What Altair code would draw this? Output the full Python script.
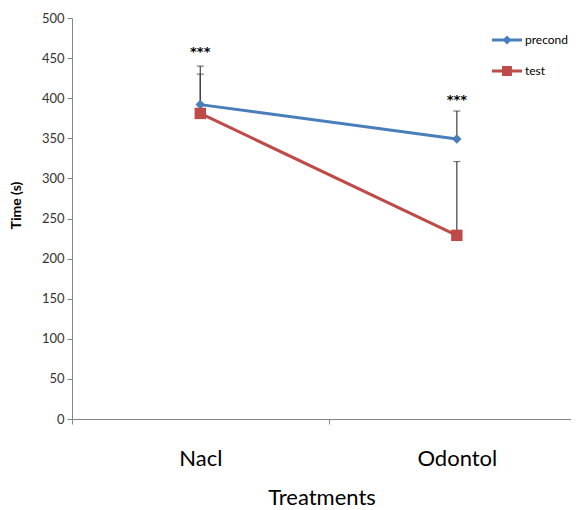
import altair as alt
import pandas as pd

categories = ["Nacl", "Odontol"]
series = ["precond", "test"]
precond = [392, 349]
test = [381, 229]
precond_upper = [440, 384]
test_upper = [430, 321]
star_level = [457, 398]
star_text = ["***", "***"]
colors = ["#4A7EBB", "#BE4B48"]
y_ticks = list(range(0, 501, 50))

rows = []
for s, vals, ups in [("precond", precond, precond_upper), ("test", test, test_upper)]:
    for i, c in enumerate(categories):
        rows.append({"cat": c, "pos": 2 * i + 1, "series": s, "value": vals[i], "upper": ups[i]})
df = pd.DataFrame(rows)
stars_df = pd.DataFrame({"cat": categories, "pos": [2 * i + 1 for i in range(len(categories))],
                         "star": star_level, "txt": star_text})

label_expr = " : ".join(
    [f"datum.value == {2*i+1} ? '{c}'" for i, c in enumerate(categories)]) + " : ''"

xenc = alt.X("pos:Q", scale=alt.Scale(domain=[0, 3.89], nice=False, zero=False),
             axis=alt.Axis(values=[0, 1, 2, 3], labelExpr=label_expr, title="Treatments",
                           grid=False, domainColor="#868686", tickColor="#868686",
                           tickOpacity={"expr": "datum.value % 2 == 1 ? 0 : 1"},
                           tickSize=5, labelPadding=24, labelFont="Lato", labelFontSize=22,
                           labelColor="black", titleFont="Lato", titleFontSize=22,
                           titleFontWeight="normal", titleColor="black", titlePadding=18))
yaxis = alt.Axis(values=y_ticks, grid=False, domainColor="#868686", tickColor="#868686",
                 tickSize=5, labelPadding=3, labelFont="Lato", labelFontSize=13,
                 labelColor="#333333", titleFont="Lato", titleFontSize=14,
                 titleFontWeight="bold", titleColor="black", titlePadding=18, titleY=187)
yscale = alt.Scale(domain=[0, 500], nice=False)


def Y(field):
    return alt.Y(f"{field}:Q", scale=yscale, axis=yaxis, title="Time (s)")


base = alt.Chart(df)

err = base.mark_rule(color="#404040", strokeWidth=1.2).encode(
    x=xenc, y=Y("value"), y2="upper:Q", detail="series:N")
caps = base.mark_tick(color="#404040", orient="horizontal", size=7, thickness=1.2).encode(
    x=xenc, y=Y("upper"), detail="series:N")

line_p = base.transform_filter(alt.datum.series == "precond").mark_line(
    strokeWidth=3, color=colors[0]).encode(x=xenc, y=Y("value"))
line_t = base.transform_filter(alt.datum.series == "test").mark_line(
    strokeWidth=3, color=colors[1]).encode(x=xenc, y=Y("value"))
pts_p = base.transform_filter(alt.datum.series == "precond").mark_point(
    shape="diamond", filled=True, size=90, opacity=1, color=colors[0]).encode(x=xenc, y=Y("value"))
pts_t = base.transform_filter(alt.datum.series == "test").mark_point(
    shape="square", filled=True, size=130, opacity=1, color=colors[1]).encode(x=xenc, y=Y("value"))

legend_shapes = ["M-1,-0.1H1V0.1H-1Z M0,-0.3L0.3,0L0,0.3L-0.3,0Z",
                 "M-1,-0.1H1V0.1H-1Z M-0.33,-0.33H0.33V0.33H-0.33Z"]
leg = alt.Legend(title=None, orient="none", legendX=420, legendY=7,
                 symbolSize=900, symbolStrokeWidth=0, symbolOpacity=1,
                 labelFont="Lato", labelFontSize=12, labelColor="black",
                 rowPadding=10, labelOffset=3, labelLimit=200)
legend_layer = base.transform_filter("false").mark_point(filled=True, opacity=1).encode(
    x=xenc, y=Y("value"),
    color=alt.Color("series:N", scale=alt.Scale(domain=series, range=colors), legend=leg),
    shape=alt.Shape("series:N", scale=alt.Scale(domain=series, range=legend_shapes), legend=leg),
)

stars = alt.Chart(stars_df).mark_text(font="DejaVu Sans", fontSize=13, fontWeight="bold",
                                      color="black").encode(
    x=xenc, y=Y("star"), text="txt:N")

chart = alt.layer(err, caps, line_p, line_t, pts_p, pts_t, stars, legend_layer).properties(
    width=499, height=401,
    padding={"left": 64, "top": 10, "right": 0, "bottom": 90},
    autosize="none",
).configure_view(stroke=None)

chart.save("out.html", embed_options={"renderer": "svg", "actions": False})
